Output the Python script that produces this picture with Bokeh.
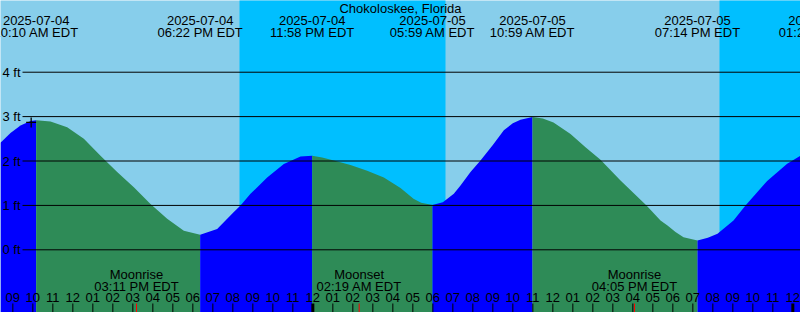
import pandas as pd
from bokeh.plotting import figure
from bokeh.models import Range1d, ColumnDataSource, LabelSet
from bokeh.core.properties import value
from bokeh.embed import file_html
from bokeh.resources import INLINE

# ---------------- data ----------------
station = "Chokoloskee, Florida"
origin = pd.Timestamp("2025-07-04 00:00")
view_start = "2025-07-04 08:23"
view_hours = 40

tide_times = [
    "2025-07-04 08:23", "2025-07-04 08:53", "2025-07-04 09:23", "2025-07-04 09:53",
    "2025-07-04 10:10", "2025-07-04 10:53", "2025-07-04 11:43", "2025-07-04 12:33",
    "2025-07-04 13:23", "2025-07-04 13:43", "2025-07-04 14:13", "2025-07-04 15:03",
    "2025-07-04 15:53", "2025-07-04 16:43", "2025-07-04 17:33", "2025-07-04 18:22",
    "2025-07-04 19:13", "2025-07-04 20:03", "2025-07-04 20:23", "2025-07-04 20:53",
    "2025-07-04 21:43", "2025-07-04 22:33", "2025-07-04 23:23", "2025-07-04 23:58",
    "2025-07-05 00:28", "2025-07-05 01:03", "2025-07-05 01:53", "2025-07-05 02:43",
    "2025-07-05 03:33", "2025-07-05 04:23", "2025-07-05 05:02", "2025-07-05 05:25",
    "2025-07-05 05:59", "2025-07-05 06:30", "2025-07-05 07:03", "2025-07-05 07:23",
    "2025-07-05 07:53", "2025-07-05 08:23", "2025-07-05 09:00", "2025-07-05 09:33",
    "2025-07-05 10:00", "2025-07-05 10:23", "2025-07-05 10:59", "2025-07-05 11:30",
    "2025-07-05 12:02", "2025-07-05 12:53", "2025-07-05 13:38", "2025-07-05 14:23",
    "2025-07-05 15:23", "2025-07-05 16:41", "2025-07-05 17:23", "2025-07-05 17:44",
    "2025-07-05 18:08", "2025-07-05 18:32", "2025-07-05 19:14", "2025-07-05 19:45",
    "2025-07-05 20:14", "2025-07-05 21:02", "2025-07-05 21:38", "2025-07-05 22:43",
    "2025-07-05 23:43", "2025-07-06 00:23",
]
tide_levels = [
    2.41, 2.63, 2.80, 2.90,
    2.92, 2.89, 2.76, 2.50,
    2.12, 1.97, 1.75, 1.41,
    1.03, 0.70, 0.43, 0.34,
    0.47, 0.85, 1.00, 1.26,
    1.63, 1.93, 2.10, 2.12,
    2.08, 2.01, 1.91, 1.78,
    1.63, 1.39, 1.15, 1.06,
    1.01, 1.07, 1.26, 1.45,
    1.75, 2.01, 2.36, 2.69,
    2.85, 2.93, 2.99, 2.96,
    2.87, 2.61, 2.31, 2.03,
    1.56, 1.00, 0.66, 0.55,
    0.40, 0.28, 0.21, 0.27,
    0.36, 0.66, 1.00, 1.55,
    1.94, 2.12,
]

event_times = ["2025-07-04 10:10", "2025-07-04 18:22", "2025-07-04 23:58", "2025-07-05 05:59",
               "2025-07-05 10:59", "2025-07-05 19:14", "2025-07-06 01:26"]
event_dates = ["2025-07-04", "2025-07-04", "2025-07-04", "2025-07-05",
               "2025-07-05", "2025-07-05", "2025-07-06"]
event_clock = ["10:10 AM EDT", "06:22 PM EDT", "11:58 PM EDT", "05:59 AM EDT",
               "10:59 AM EDT", "07:14 PM EDT", "01:26 AM EDT"]

moon_times = ["2025-07-04 15:11", "2025-07-05 02:19", "2025-07-05 16:05"]
moon_names = ["Moonrise", "Moonset", "Moonrise"]
moon_clock = ["03:11 PM EDT", "02:19 AM EDT", "04:05 PM EDT"]

night_start = ["2025-07-04 20:20", "2025-07-05 20:20"]
night_end = ["2025-07-05 06:38", "2025-07-06 06:38"]

now_time = ["2025-07-04 09:55"]
now_level = [2.87]

level_values = [0, 1, 2, 3, 4]
level_labels = ["0 ft", "1 ft", "2 ft", "3 ft", "4 ft"]

hour_first = 9
hour_last = 48

# ---------------- helpers ----------------
def hrs(t):
    return (pd.Timestamp(t) - origin) / pd.Timedelta(hours=1)

W, H = 800, 312
x0 = hrs(view_start)
x1 = x0 + view_hours
ybot, ytop = -1.412, 5.615
px_per_ft = H / (ytop - ybot)
px_per_hr = W / view_hours

FONT = value("Liberation Sans")
FS = value("13px")
SKY, NIGHT, RISE, FALL = "#87CEEB", "#00BFFF", "#0000FF", "#2E8B57"

p = figure(width=W, height=H, x_range=Range1d(x0, x1), y_range=Range1d(ybot, ytop),
           output_backend="svg", toolbar_location=None, min_border=0,
           background_fill_color=SKY, border_fill_color=SKY)
p.axis.visible = False
p.grid.visible = False
p.outline_line_color = None

# night bands
p.quad(left=[hrs(t) for t in night_start], right=[hrs(t) for t in night_end],
       bottom=ybot - 1, top=ytop + 1, fill_color=NIGHT, line_color=None)

# tide area, split into rising / falling pieces
tx = [hrs(t) for t in tide_times]
ty = tide_levels
pieces = []
s = 0
for i in range(1, len(ty) - 1):
    if (ty[i] - ty[i - 1]) * (ty[i + 1] - ty[i]) < 0:
        pieces.append((s, i))
        s = i
pieces.append((s, len(ty) - 1))
for a, b in pieces:
    col = RISE if ty[b] > ty[a] else FALL
    p.varea(x=tx[a:b + 1], y1=ybot - 1, y2=ty[a:b + 1], fill_color=col)

# level lines
line_start = x0 + 22 / px_per_hr
p.segment(x0=[line_start] * len(level_values), x1=[x1 + 1] * len(level_values),
          y0=level_values, y1=level_values, line_color="black", line_width=1)
p.add_layout(LabelSet(x=20, y="y", text="t", x_units="screen", y_offset=-4.5,
                      text_align="right", text_baseline="alphabetic",
                      text_font=FONT, text_font_size=value("13px"), text_color="black",
                      source=ColumnDataSource(dict(y=level_values, t=level_labels))))

# now marker
p.scatter(x=[hrs(t) for t in now_time], y=now_level, marker="cross", size=10,
          line_color="black", line_width=1.3)

# hour ticks and labels
hours = list(range(hour_first, hour_last + 1))
tick_h = 9 / px_per_ft
norm = [h for h in hours if h % 24 != 0]
mid = [h for h in hours if h % 24 == 0]
p.segment(x0=norm, x1=norm, y0=[ybot] * len(norm), y1=[ybot + tick_h] * len(norm),
          line_color="black", line_width=1)
p.segment(x0=mid, x1=mid, y0=[ybot] * len(mid), y1=[ybot + tick_h] * len(mid),
          line_color="black", line_width=3)
mx = [hrs(t) for t in moon_times]
p.segment(x0=mx, x1=mx, y0=[ybot] * len(mx), y1=[ybot + tick_h] * len(mx),
          line_color="red", line_width=1)
hour_text = ["%02d" % (12 if h % 12 == 0 else h % 12) for h in hours]
p.add_layout(LabelSet(x="x", y=10.3, text="t", y_units="screen", text_align="center",
                      text_baseline="alphabetic", text_font=FONT, text_font_size=FS,
                      text_color="black",
                      source=ColumnDataSource(dict(x=hours, t=hour_text))))

# moon labels
msrc = ColumnDataSource(dict(x=mx, n=moon_names, c=moon_clock))
p.add_layout(LabelSet(x="x", y=33.7, text="n", y_units="screen", text_align="center",
                      text_baseline="alphabetic", text_font=FONT, text_font_size=FS,
                      text_color="black", source=msrc))
p.add_layout(LabelSet(x="x", y=22, text="c", y_units="screen", text_align="center",
                      text_baseline="alphabetic", text_font=FONT, text_font_size=FS,
                      text_color="black", source=msrc))

# tide event labels
esrc = ColumnDataSource(dict(x=[hrs(t) for t in event_times], d=event_dates, c=event_clock))
p.add_layout(LabelSet(x="x", y=H - 24, text="d", y_units="screen", text_align="center",
                      text_baseline="alphabetic", text_font=FONT, text_font_size=FS,
                      text_color="black", source=esrc))
p.add_layout(LabelSet(x="x", y=H - 36, text="c", y_units="screen", text_align="center",
                      text_baseline="alphabetic", text_font=FONT, text_font_size=FS,
                      text_color="black", source=esrc))

# title (same mechanism as the other labels)
p.add_layout(LabelSet(x="x", y="y", text="t", x_units="screen", y_units="screen",
                      text_align="center", text_baseline="alphabetic", text_font=FONT,
                      text_font_size=FS, text_color="black",
                      source=ColumnDataSource(dict(x=[W / 2], y=[H - 12], t=[station]))))

open("out.html", "w").write(file_html(p, INLINE))
